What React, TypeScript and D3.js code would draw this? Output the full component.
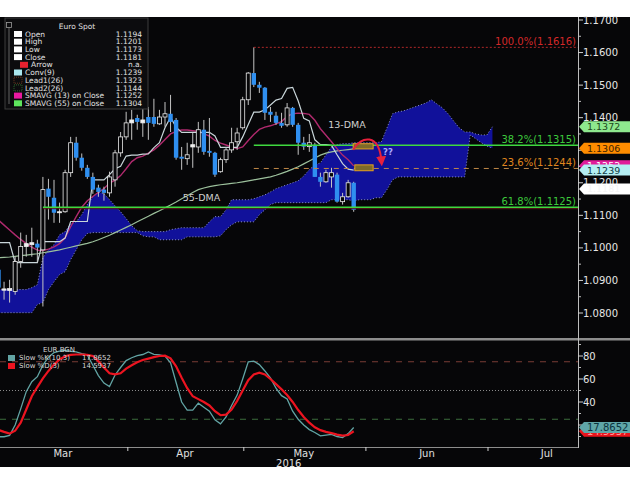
import React from "react";
import * as d3 from "d3";

const W = 630;
const H = 487;
const FF = "DejaVu Sans, Verdana, sans-serif";

// ---- daily EUR/USD candles (index 0 = Feb 29 2016 ... 64 = May 27 2016)
const opens = [1.0933,1.0870,1.0869,1.0866,1.0958,1.1004,1.1010,1.1013,1.0994,1.1182,1.1154,1.1108,1.1111,1.1231,1.1323,1.1277,1.1246,1.1218,1.1185,1.1179,1.1169,1.1209,1.1292,1.1341,1.1384,1.1399,1.1384,1.1402,1.1402,1.1381,1.1402,1.1412,1.1393,1.1280,1.1274,1.1310,1.1310,1.1363,1.1298,1.1292,1.1234,1.1271,1.1301,1.1326,1.1369,1.1455,1.1537,1.1501,1.1492,1.1418,1.1406,1.1384,1.1378,1.1430,1.1378,1.1323,1.1311,1.1317,1.1218,1.1203,1.1218,1.1225,1.1142,1.1157,1.1200];
const highs = [1.0942,1.0896,1.0902,1.0973,1.1047,1.1040,1.1062,1.1025,1.1218,1.1212,1.1209,1.1139,1.1240,1.1341,1.1341,1.1290,1.1255,1.1231,1.1194,1.1188,1.1234,1.1301,1.1356,1.1418,1.1424,1.1409,1.1430,1.1433,1.1458,1.1424,1.1448,1.1470,1.1399,1.1310,1.1323,1.1353,1.1387,1.1393,1.1399,1.1295,1.1277,1.1310,1.1369,1.1369,1.1464,1.1540,1.1616,1.1510,1.1494,1.1433,1.1418,1.1415,1.1445,1.1433,1.1384,1.1341,1.1350,1.1323,1.1231,1.1240,1.1246,1.1231,1.1169,1.1209,1.1203];
const lows = [1.0866,1.0841,1.0832,1.0856,1.0939,1.0973,1.0973,1.0955,1.0820,1.1087,1.1077,1.1077,1.1108,1.1218,1.1268,1.1237,1.1212,1.1166,1.1157,1.1145,1.1157,1.1188,1.1280,1.1332,1.1332,1.1363,1.1341,1.1332,1.1372,1.1378,1.1372,1.1356,1.1271,1.1240,1.1255,1.1246,1.1292,1.1286,1.1280,1.1218,1.1231,1.1261,1.1292,1.1301,1.1363,1.1439,1.1494,1.1476,1.1393,1.1387,1.1378,1.1369,1.1372,1.1372,1.1286,1.1301,1.1295,1.1218,1.1188,1.1200,1.1185,1.1139,1.1133,1.1154,1.1111];
const closes = [1.0878,1.0874,1.0875,1.0958,1.1004,1.1013,1.1016,1.1001,1.1179,1.1157,1.1108,1.1111,1.1231,1.1323,1.1277,1.1246,1.1218,1.1179,1.1172,1.1169,1.1218,1.1292,1.1341,1.1384,1.1393,1.1387,1.1393,1.1384,1.1381,1.1402,1.1412,1.1387,1.1277,1.1274,1.1286,1.1317,1.1363,1.1295,1.1292,1.1225,1.1271,1.1301,1.1323,1.1353,1.1455,1.1537,1.1501,1.1492,1.1415,1.1409,1.1384,1.1375,1.1430,1.1378,1.1323,1.1311,1.1323,1.1218,1.1203,1.1231,1.1231,1.1142,1.1157,1.1200,1.1117];

// ---- overlays
const conv9 = [1.1016,1.1016,1.1016,1.0955,1.0955,1.0955,1.0955,1.0955,1.1019,1.1019,1.1019,1.1019,1.1030,1.1081,1.1081,1.1081,1.1081,1.1209,1.1209,1.1209,1.1225,1.1243,1.1251,1.1282,1.1285,1.1285,1.1288,1.1289,1.1308,1.1323,1.1369,1.1401,1.1371,1.1355,1.1355,1.1355,1.1355,1.1355,1.1355,1.1344,1.1309,1.1309,1.1309,1.1309,1.1341,1.1379,1.1417,1.1417,1.1424,1.1439,1.1454,1.1459,1.1490,1.1493,1.1451,1.1398,1.1390,1.1332,1.1317,1.1317,1.1315,1.1286,1.1259,1.1242,1.1239];
const sma13 = [1.1085,1.1070,1.1055,1.1040,1.1026,1.1013,1.1002,1.0993,1.0992,1.0996,1.1003,1.1013,1.1031,1.1065,1.1096,1.1125,1.1145,1.1158,1.1171,1.1182,1.1199,1.1208,1.1222,1.1243,1.1265,1.1277,1.1282,1.1291,1.1301,1.1315,1.1333,1.1350,1.1358,1.1362,1.1362,1.1360,1.1358,1.1351,1.1343,1.1330,1.1322,1.1316,1.1310,1.1305,1.1310,1.1330,1.1348,1.1364,1.1371,1.1375,1.1381,1.1388,1.1404,1.1412,1.1414,1.1413,1.1410,1.1392,1.1366,1.1346,1.1326,1.1305,1.1285,1.1271,1.1252];
const sma55 = [1.0970,1.0971,1.0972,1.0974,1.0976,1.0978,1.0980,1.0982,1.0985,1.0988,1.0991,1.0994,1.0998,1.1002,1.1006,1.1010,1.1014,1.1019,1.1025,1.1032,1.1039,1.1047,1.1055,1.1063,1.1071,1.1080,1.1089,1.1097,1.1106,1.1114,1.1123,1.1132,1.1141,1.1151,1.1160,1.1170,1.1179,1.1184,1.1188,1.1191,1.1194,1.1196,1.1198,1.1200,1.1203,1.1206,1.1209,1.1212,1.1215,1.1218,1.1223,1.1229,1.1235,1.1242,1.1249,1.1258,1.1267,1.1276,1.1285,1.1291,1.1295,1.1298,1.1300,1.1302,1.1304];
// Ichimoku leading spans (index 0..89, shifted 26 ahead)
const lead1 = [1.0872,1.0872,1.0872,1.0872,1.0872,1.0872,1.0878,1.0887,1.0970,1.0994,1.1010,1.1040,1.1050,1.1074,1.1080,1.1102,1.1133,1.1157,1.1172,1.1166,1.1148,1.1129,1.1111,1.1090,1.1068,1.1053,1.1050,1.1050,1.1050,1.1050,1.1050,1.1056,1.1059,1.1062,1.1062,1.1062,1.1062,1.1062,1.1080,1.1096,1.1096,1.1117,1.1148,1.1148,1.1148,1.1148,1.1151,1.1157,1.1163,1.1172,1.1182,1.1188,1.1194,1.1200,1.1206,1.1221,1.1240,1.1255,1.1261,1.1286,1.1310,1.1317,1.1320,1.1320,1.1323,1.1323,1.1323,1.1323,1.1323,1.1326,1.1369,1.1412,1.1418,1.1421,1.1427,1.1433,1.1439,1.1445,1.1455,1.1442,1.1430,1.1412,1.1390,1.1369,1.1356,1.1356,1.1350,1.1347,1.1347,1.1372];
const lead2 = [1.0801,1.0801,1.0801,1.0801,1.0801,1.0801,1.0801,1.0826,1.0832,1.0872,1.0896,1.0918,1.0927,1.0964,1.0994,1.1025,1.1044,1.1047,1.1047,1.1047,1.1047,1.1047,1.1047,1.1047,1.1047,1.1047,1.1037,1.1034,1.1034,1.1025,1.1025,1.1025,1.1025,1.1025,1.1034,1.1034,1.1034,1.1034,1.1034,1.1034,1.1037,1.1056,1.1071,1.1080,1.1080,1.1080,1.1080,1.1102,1.1117,1.1133,1.1139,1.1139,1.1139,1.1139,1.1139,1.1139,1.1139,1.1139,1.1139,1.1139,1.1148,1.1148,1.1148,1.1148,1.1144,1.1148,1.1148,1.1148,1.1154,1.1154,1.1179,1.1209,1.1218,1.1218,1.1218,1.1218,1.1218,1.1218,1.1218,1.1218,1.1218,1.1218,1.1218,1.1218,1.1218,1.1347,1.1335,1.1323,1.1313,1.1306];

// ---- stochastics
const slowK = [9.8,9.8,11,20,34,49,57.7,62,72,79,83,84.3,85,84,83.5,82,81,72,63,56.5,53.5,63.5,70,76,78.5,80.3,81.3,83.5,81.5,81,80,74,57,40,33,33,39,35.5,32,24.5,21,27,37,46,60,75,75.5,72.5,67,61,52,45.5,42.6,32,25,20,16,13.5,10.5,11.2,11.8,10,9,12.5,17.8652];
const slowD = [15.7,14,12.5,15,22,33.5,45,53,60.5,67,72.5,77,79.8,81,81.3,81.3,81,80,75.5,70,65,64,65,69,72,74.5,76.5,77.7,79,80,80.3,78,71,61,52,45,42.5,40,37,32,28.5,29,33.5,41,50,59,64,65.5,64,60,55.5,51,46,40,33,27,22,18,15.5,14,13,11.6,10.8,11.3,14.5937];

// ---- axes
const priceTicks = [1.17,1.16,1.15,1.14,1.13,1.12,1.11,1.10,1.09,1.08];
const priceMinor = [1.165,1.155,1.145,1.135,1.125,1.115,1.105,1.095,1.085];
const stochTicks = [80,60,40,20];
const stochMinor = [90,70,50,30,10];
const stochLevels = [75,50,25];
const monthLabels = ["Mar","Apr","May","Jun","Jul"];
const monthLabelIdx = [11.6,33.6,55,77.2,98.8];
const monthBoundIdx = [23.3,44.2,66.2,88.2];
const yearLabel = "2016";
const yearIdx = 52.3;

// ---- fibonacci retracements
const fibLabels = ["100.0%(1.1616)","38.2%(1.1315)","23.6%(1.1244)","61.8%(1.1125)"];
const fibPrices = [1.1616,1.1315,1.1244,1.1125];
const fibStartIdx = [46,46,46,8];

// ---- annotations
const annoTexts = ["13-DMA","55-DMA","??"];
const annoIdx = [59.4,33.2,69.3];
const annoPrice = [1.1378,1.1154,1.1295];
const arrowIdx = [63.9,65.3,68.6,69.0];
const arrowPrice = [1.1301,1.1346,1.1352,1.1266];
const boxIdxFrom = [63.9,64.2];
const boxIdxTo = [67.5,67.5];
const boxTop = [1.1320,1.1255];
const boxBottom = [1.1304,1.1237];

// ---- legends and tags
const legendLabels = ["Open","High","Low","Close","Arrow","Conv(9)","Lead1(26)","Lead2(26)","SMAVG (13) on Close","SMAVG (55) on Close"];
const legendValues = ["1.1194","1.1201","1.1173","1.1181","n.a.","1.1239","1.1323","1.1144","1.1252","1.1304"];
const legendSwatch = ["#ffffff","#ffffff","#ffffff","#ffffff","#e8212e","#a9e6ee","#6a3a20","#2e6a2e","#e81aa0","#5ee65e"];
const tagValues = [1.1372,1.1306,1.1252,1.1239,1.1181];
const tagFill = ["#8ee88e","#ff8c00","#e01c9a","#b4eef2","#ffffff"];
const tagText = ["#1d4a1d","#3a1e00","#ffffff","#0d3a44","#f4f4f4"];
const stochNames = ["Slow %K(10,3)","Slow %D(3)"];
const stochTagValues = [14.5937,17.8652];
const stochTagFill = ["#e8141c","#5fa6a8"];
const stochTagText = ["#ff9a9a","#0b3440"];

export default function App() {
  const xRight = 578;
  const x = d3.scaleLinear().domain([0, 64]).range([-1.5, 353.7]);
  const y = d3.scaleLinear().domain([1.08, 1.17]).range([313, 20]);
  const ys = d3.scaleLinear().domain([0, 100]).range([448, 333]);

  const pLine = (arr: number[]) => d3.line<number>().x((_, i) => x(i)).y((d) => y(d))(arr) || "";
  const sLine = (arr: number[]) => d3.line<number>().x((_, i) => x(i)).y((d) => ys(d))(arr) || "";
  const cloud = d3.area<number>().x((_, i) => x(i)).y0((_, i) => y(lead2[i])).y1((d) => y(d))(lead1) || "";

  // axis labels sitting under a value tag are not shown (as on the terminal)
  const coveredPrice = (v: number) => tagValues.some((t) => Math.abs(y(t) - y(v)) < 6);
  const coveredStoch = (v: number) => stochTagValues.some((t) => Math.abs(ys(t) - ys(v)) < 6);

  const tag = (yc: number, fill: string, color: string, label: string, key: string, h = 11, fs = 9.5) => (
    <g key={key}>
      <path d={`M${xRight + 1},${yc} L${xRight + 6},${yc - h / 2} L${W},${yc - h / 2} L${W},${yc + h / 2} L${xRight + 6},${yc + h / 2} Z`} fill={fill} />
      <text x={xRight + 9} y={yc} dy="0.36em" fontSize={fs} fill={color} fontFamily={FF}>{label}</text>
    </g>
  );

  const [ax0, ax1, ax2, ax3] = arrowIdx.map((v) => x(v));
  const [ay0, ay1, ay2, ay3] = arrowPrice.map((v) => y(v));

  return (
    <svg width={W} height={H} style={{ position: "absolute", left: 0, top: 0 }} fontFamily={FF}>
      <defs>
        <clipPath id="mainClip"><rect x={0} y={17} width={xRight} height={321} /></clipPath>
        <clipPath id="lowClip"><rect x={0} y={341} width={xRight} height={106} /></clipPath>
        <marker id="arrowHead" viewBox="0 0 10 10" refX="5" refY="5" markerWidth="5" markerHeight="5" orient="auto">
          <path d="M0,0 L10,5 L0,10 Z" fill="#e8203c" />
        </marker>
      </defs>
      <rect x={0} y={0} width={W} height={H} fill="#ffffff" />
      <rect x={0} y={17} width={W} height={450} fill="#060608" />

      {/* ---------- main panel ---------- */}
      <g clipPath="url(#mainClip)">
        <path d={cloud} fill="#11119a" />
        <path d={pLine(lead1)} fill="none" stroke="#8f96c8" strokeWidth={1} strokeDasharray="1,2" />
        <path d={pLine(lead2)} fill="none" stroke="#8f96c8" strokeWidth={1} strokeDasharray="1,2" />
        <path d={pLine(sma55)} fill="none" stroke="#9cc09c" strokeWidth={1.2} />
        <path d={pLine(sma13)} fill="none" stroke="#b02a6e" strokeWidth={1.4} />
        <path d={pLine(conv9)} fill="none" stroke="#c9d6da" strokeWidth={1.2} />

        {closes.map((c, i) => {
          const o = opens[i];
          const up = c >= o;
          const top = y(Math.max(o, c));
          const bot = y(Math.min(o, c));
          const h = Math.max(1, bot - top);
          const cx = x(i);
          return (
            <g key={"c" + i}>
              <line x1={cx} x2={cx} y1={y(highs[i])} y2={y(lows[i])} stroke="#c4c4c4" strokeWidth={1} />
              {up ? (
                <rect x={cx - 2} y={top} width={4} height={h} fill={h < 3 ? "#f0f0f0" : "#060608"} stroke="#ececec" strokeWidth={0.8} />
              ) : (
                <rect x={cx - 2.2} y={top} width={4.4} height={h} fill="#2f8ff0" />
              )}
            </g>
          );
        })}

        {/* fibonacci levels */}
        <line x1={x(fibStartIdx[0])} x2={xRight} y1={y(fibPrices[0])} y2={y(fibPrices[0])} stroke="#b02828" strokeWidth={1} strokeDasharray="2,2" />
        <line x1={x(fibStartIdx[1])} x2={xRight} y1={y(fibPrices[1])} y2={y(fibPrices[1])} stroke="#3fd83f" strokeWidth={1.5} />
        <line x1={x(fibStartIdx[2])} x2={xRight} y1={y(fibPrices[2])} y2={y(fibPrices[2])} stroke="#c08848" strokeWidth={1} strokeDasharray="5,5" />
        <line x1={x(fibStartIdx[3])} x2={xRight} y1={y(fibPrices[3]) + 1.5} y2={y(fibPrices[3]) + 1.5} stroke="#5a1818" strokeWidth={1} />
        <line x1={x(fibStartIdx[3])} x2={xRight} y1={y(fibPrices[3])} y2={y(fibPrices[3])} stroke="#3fd83f" strokeWidth={1.5} />
        {fibLabels.map((t, i) => (
          <text key={"f" + i} x={576} y={y(fibPrices[i]) - 2} textAnchor="end" fontSize={10}
            fill={["#d42828", "#3cc83c", "#e0861e", "#3cc83c"][i]}>{t}</text>
        ))}

        {/* annotations */}
        {annoTexts.map((t, i) => (
          <text key={"a" + i} x={x(annoIdx[i])} y={y(annoPrice[i])} dy="0.35em" fontSize={i === 2 ? 8.5 : 9.5}
            fill={i === 2 ? "#a9a9ff" : "#d0d0d0"} fontWeight={i === 2 ? "bold" : "normal"}>{t}</text>
        ))}
        {boxTop.map((b, i) => (
          <rect key={"b" + i} x={x(boxIdxFrom[i])} y={y(b)} width={x(boxIdxTo[i]) - x(boxIdxFrom[i])}
            height={y(boxBottom[i]) - y(b)} fill="#7d6a2a" stroke="#e6a21e" strokeWidth={1} />
        ))}
        <path d={`M${ax0},${ay0} C${ax1},${ay1} ${ax2},${ay2} ${ax3},${ay3}`} fill="none" stroke="#e8203c"
          strokeWidth={2} markerEnd="url(#arrowHead)" />
      </g>

      {/* ---------- lower panel ---------- */}
      <g clipPath="url(#lowClip)">
        {stochLevels.map((v, i) => (
          <line key={"l" + i} x1={0} x2={xRight} y1={ys(v)} y2={ys(v)}
            stroke={["#7a3c34", "#8a8a8a", "#3c6e3c"][i]} strokeWidth={1}
            strokeDasharray={i === 1 ? "1,2" : "6,6"} />
        ))}
        <path d={sLine(slowK)} fill="none" stroke="#62a4a4" strokeWidth={1.3} />
        <path d={sLine(slowD)} fill="none" stroke="#ec1420" strokeWidth={2.2} />
      </g>

      {/* stochastic legend */}
      <text x={43} y={350} dy="0.35em" fontSize={7} fill="#d8d8d8">EUR BGN</text>
      {stochNames.map((n, i) => (
        <g key={"sn" + i}>
          <rect x={8} y={355 + i * 8} width={7} height={6} fill={i === 0 ? "#62a4a4" : "#ec1420"} />
          <text x={19} y={358 + i * 8} dy="0.35em" fontSize={7} fill="#d8d8d8">{n}</text>
          <text x={82} y={358 + i * 8} dy="0.35em" fontSize={7} fill="#d8d8d8">{(i === 0 ? slowK[slowK.length - 1] : slowD[slowD.length - 1]).toFixed(4)}</text>
        </g>
      ))}

      {/* frames */}
      <rect x={0} y={338} width={W} height={2.5} fill="#8c8c8c" />
      <line x1={0} x2={xRight} y1={447.5} y2={447.5} stroke="#8c8c8c" strokeWidth={1.2} />
      <line x1={xRight + 0.5} x2={xRight + 0.5} y1={17} y2={448} stroke="#bdbdbd" strokeWidth={1} />

      {/* price axis */}
      {priceMinor.map((v, i) => (
        <line key={"pm" + i} x1={xRight} x2={xRight + 3} y1={y(v)} y2={y(v)} stroke="#bdbdbd" />
      ))}
      {priceTicks.map((v, i) => (
        <g key={"pt" + i}>
          <line x1={xRight} x2={xRight + 5} y1={y(v)} y2={y(v)} stroke="#d0d0d0" />
          {!coveredPrice(v) && (
            <text x={xRight + 5} y={y(v)} dy="0.36em" fontSize={10} fill="#e6e6e6">{v.toFixed(4)}</text>
          )}
        </g>
      ))}
      {tagValues.map((v, i) => tag(y(v), tagFill[i], tagText[i], v.toFixed(4), "t" + i))}

      {/* stochastic axis */}
      {stochMinor.map((v, i) => (
        <line key={"sm" + i} x1={xRight} x2={xRight + 3} y1={ys(v)} y2={ys(v)} stroke="#bdbdbd" />
      ))}
      {stochTicks.map((v, i) => (
        <g key={"st" + i}>
          <line x1={xRight} x2={xRight + 5} y1={ys(v)} y2={ys(v)} stroke="#d0d0d0" />
          {!coveredStoch(v) && (
            <text x={xRight + 5} y={ys(v)} dy="0.36em" fontSize={10} fill="#e6e6e6">{v}</text>
          )}
        </g>
      ))}
      {stochTagValues.map((v, i) => tag(ys(v), stochTagFill[i], stochTagText[i], v.toFixed(4), "s" + i, 11, 10))}

      {/* time axis */}
      {monthBoundIdx.map((m, i) => (
        <line key={"mb" + i} x1={x(m)} x2={x(m)} y1={447} y2={451} stroke="#d0d0d0" />
      ))}
      {monthLabels.map((m, i) => (
        <text key={"ml" + i} x={x(monthLabelIdx[i])} y={453} dy="0.36em" textAnchor="middle" fontSize={10} fill="#e0e0e0">{m}</text>
      ))}
      <text x={x(yearIdx)} y={463} dy="0.36em" textAnchor="middle" fontSize={10} fill="#e0e0e0">{yearLabel}</text>

      {/* main legend */}
      <rect x={5} y={18} width={143} height={91} fill="#0c0c0e" stroke="#3c3c3c" strokeWidth={1} />
      <rect x={6.5} y={22.5} width={5} height={5} fill="none" stroke="#9a9a9a" strokeWidth={0.8} />
      <line x1={9} x2={9} y1={28} y2={104} stroke="#7a7a7a" strokeWidth={0.8} />
      <text x={77} y={26} dy="0.35em" textAnchor="middle" fontSize={7.5} fill="#e0e0e0">Euro Spot</text>
      {legendLabels.map((l, i) => {
        const ry = 34 + i * 7.7;
        const indent = i === 4 ? 6 : 0;
        const dotted = i === 6 || i === 7;
        return (
          <g key={"lg" + i}>
            <rect x={14 + indent} y={ry - 3} width={8} height={6}
              fill={dotted ? "none" : legendSwatch[i]} stroke={dotted ? legendSwatch[i] : "none"}
              strokeDasharray={dotted ? "1,1" : undefined} strokeWidth={dotted ? 1 : 0} />
            <text x={25 + indent} y={ry} dy="0.35em" fontSize={7.5} fill="#e2e2e2">{l}</text>
            <text x={142} y={ry} dy="0.35em" textAnchor="end" fontSize={7.5} fill="#e2e2e2">{legendValues[i]}</text>
          </g>
        );
      })}
    </svg>
  );
}
